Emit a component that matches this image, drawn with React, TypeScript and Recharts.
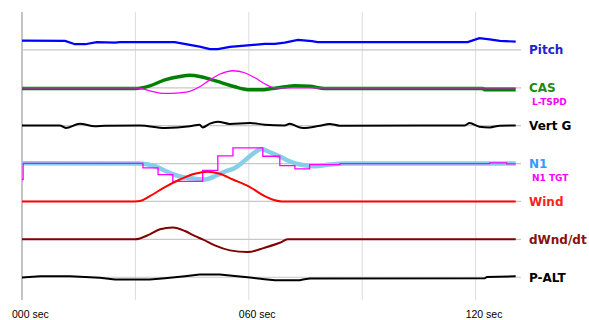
import { LineChart, Line, XAxis, YAxis, ReferenceLine } from 'recharts';

// time axis (sec) and per-trace deviations from each band's baseline (1 band = 10 units)
const xTicks = [0, 60, 120];
const xTickLabels = ['000 sec', '060 sec', '120 sec'];
const gridX = [30, 60, 90, 120];

const pitchT = [0, 11.4, 14, 16.7, 19.8, 24.6, 25.9, 40.4, 44.4, 47, 49.7, 51.8, 55, 58.9, 64.2, 66.9, 69.5, 73, 76.7, 78.2, 117.9, 121, 123.7, 126.4, 130.6];
const pitchV = [2.46, 2.38, 1.5, 1.5, 2.04, 1.93, 2.04, 2.04, 1.32, 0.87, 0.19, 0.19, 0.79, 1.14, 1.59, 1.59, 1.93, 2.65, 2.3, 2.04, 2.04, 3.1, 2.78, 2.38, 2.2];

const casT = [0, 29.9, 33.8, 37.8, 41.8, 44.4, 47, 49.7, 52.9, 56.3, 60.3, 63.4, 65.6, 68.7, 72.2, 76.1, 80.1, 121.9, 122.4, 130.6];
const casV = [-0.2, -0.2, 0.5, 2.1, 3.0, 3.3, 3.0, 2.3, 1.3, 0.26, -0.53, -0.53, -0.26, 0.13, 0.53, 0.4, -0.2, -0.2, -0.53, -0.53];

const ltspdT = [0, 30, 31.2, 33.8, 37.8, 41.8, 44.4, 47, 49.7, 52.3, 55.8, 58.9, 61.6, 64.2, 66.9, 130.6];
const ltspdV = [0, 0, -0.13, -0.8, -1.5, -1.32, -0.93, 0.26, 2.1, 3.57, 4.5, 3.97, 2.65, 1.06, 0, 0];

const vertGT = [0, 10, 11.6, 15.3, 19.3, 21.9, 31.2, 37.8, 44.4, 47, 47.8, 49.7, 51.8, 55, 60.3, 64.2, 69.5, 70.8, 73.5, 74.3, 78.8, 81.4, 84, 117.1, 118.4, 121, 123.7, 126.4, 130.6];
const vertGV = [0.08, 0.08, -0.6, 0.53, -0.18, 0, 0.08, -0.6, -0.18, 0.26, -0.45, 0.53, 1.06, 0.45, 0.71, 0.26, 0.08, 0.53, -0.5, -0.6, 0, 0.45, 0, 0.08, 0.71, -0.26, -0.45, 0, 0.08];

const n1T = [0, 31.2, 35.2, 39.1, 41.8, 45.7, 48.4, 51, 53.7, 56.3, 58.9, 61.6, 63.2, 65.6, 68.2, 70.8, 73.5, 77.5, 81.4, 85.4, 130.6];
const n1V = [0.1, 0, -0.71, -2.46, -3.4, -3.97, -4.23, -3.35, -2.1, -1.15, 0.79, 2.98, 3.86, 2.98, 1.85, 0.61, -0.26, -0.71, -0.26, 0, 0];

const n1TgtT = [0, 0.3, 32, 36, 39.9, 47.8, 51.8, 55.8, 63.7, 68.2, 72.2, 76.1, 84.1, 123.7, 128.2, 130.6];
const n1TgtV = [-4.2, 0.08, -1.14, -2.9, -4.7, -1.77, 2.04, 4.15, 1.93, -0.53, -1.4, -0.26, 0, 0.19, -0.08, -0.08];

const windT = [0, 29.9, 31.2, 33.8, 37.8, 41.8, 45.7, 49, 52.3, 55.8, 60.3, 64.2, 66.9, 68.7, 130.6];
const windV = [0, 0, 0.1, 1.4, 3.8, 5.8, 7.3, 7.86, 7.3, 5.8, 3.8, 1.4, 0.3, 0, 0];

const dWndT = [0, 29.9, 33.8, 36.5, 39.9, 43.1, 45.7, 47.8, 51, 55, 59.7, 64.2, 68.2, 70.3, 130.6];
const dWndV = [0, 0, 1.32, 2.65, 3.1, 2.2, 0.9, 0, -1.6, -2.9, -3.36, -2.2, -0.9, 0, 0];

const pAltT = [0, 4.8, 12.7, 20.6, 24.6, 33.8, 37.8, 43.1, 47, 52.3, 56.3, 60.3, 64.2, 66.9, 73.5, 74.3, 76.1, 122.4, 123, 130.6];
const pAltV = [-0.08, 0.26, 0.26, -0.13, -0.6, -0.6, -0.26, 0.26, 0.71, 0.71, 0.34, -0.08, -0.53, -0.79, -0.79, -0.6, -0.34, -0.26, 0.08, 0.26];

const toPoints = (ts: number[], vs: number[], base: number) =>
  ts.map((t, i) => ({ t, v: base + vs[i] }));

const FONT = '"DejaVu Sans", Verdana, sans-serif';

const bands = [
  { base: 70, label: 'Pitch', color: '#2222cc' },
  { base: 60, label: 'CAS', color: '#1a8a1a' },
  { base: 50, label: 'Vert G', color: '#000000' },
  { base: 40, label: 'N1', color: '#3399ff' },
  { base: 30, label: 'Wind', color: '#ff2020' },
  { base: 20, label: 'dWnd/dt', color: '#8b1010' },
  { base: 10, label: 'P-ALT', color: '#000000' },
];

const subLabels = [
  { y: 56.4, label: 'L-TSPD' },
  { y: 36.2, label: 'N1  TGT' },
];

function TimeTick({ x, y, payload }: { x?: number; y?: number; payload?: { value: number } }) {
  const idx = xTicks.indexOf(payload?.value ?? -1);
  return (
    <text x={(x ?? 0) - 10} y={(y ?? 0) + 10} fontSize={10.5} fontFamily='"Liberation Sans", Arial, sans-serif' fill="#000">
      {xTickLabels[idx]}
    </text>
  );
}

export default function App() {
  return (
    <div style={{ position: 'absolute', left: 0, top: 0, background: '#fff' }}>
      <LineChart width={589} height={320} margin={{ top: 12, right: 68, bottom: 0, left: 22 }}>
        <XAxis
          dataKey="t"
          type="number"
          domain={[0, 132]}
          ticks={xTicks}
          axisLine={false}
          tickLine={false}
          height={20}
          tick={<TimeTick />}
        />
        <YAxis hide type="number" domain={[4, 80]} />

        {gridX.map(x => (
          <ReferenceLine key={'gx' + x} x={x} stroke="#dcdcdc" strokeWidth={1} />
        ))}
        <ReferenceLine x={0} stroke="#c4c4c4" strokeWidth={2} />

        {bands.map(b => (
          <ReferenceLine
            key={b.label}
            y={b.base}
            stroke="#c8c8c8"
            strokeWidth={1.2}
            label={{ value: b.label, position: 'right', offset: 8, fill: b.color, fontSize: 12, fontWeight: 'bold', fontFamily: FONT }}
          />
        ))}
        {subLabels.map(s => (
          <ReferenceLine
            key={s.label}
            y={s.y}
            stroke="none"
            strokeOpacity={0}
            label={{ value: s.label, position: 'right', offset: 11, fill: '#ff00ff', fontSize: 9, fontWeight: 'bold', fontFamily: FONT }}
          />
        ))}

        <Line data={toPoints(pitchT, pitchV, 70)} dataKey="v" type="linear" stroke="#0000ff" strokeWidth={2.2} dot={false} isAnimationActive={false} />
        <Line data={toPoints(casT, casV, 60)} dataKey="v" type="monotone" stroke="#008000" strokeWidth={3.5} dot={false} isAnimationActive={false} />
        <Line data={toPoints(ltspdT, ltspdV, 60)} dataKey="v" type="monotone" stroke="#ff00ff" strokeWidth={1.3} dot={false} isAnimationActive={false} />
        <Line data={toPoints(vertGT, vertGV, 50)} dataKey="v" type="monotone" stroke="#000000" strokeWidth={2} dot={false} isAnimationActive={false} />
        <Line data={toPoints(n1T, n1V, 40)} dataKey="v" type="monotone" stroke="#87ceeb" strokeWidth={4.5} dot={false} isAnimationActive={false} />
        <Line data={toPoints(n1TgtT, n1TgtV, 40)} dataKey="v" type="stepAfter" stroke="#ff00ff" strokeWidth={1.3} dot={false} isAnimationActive={false} />
        <Line data={toPoints(windT, windV, 30)} dataKey="v" type="monotone" stroke="#ff0000" strokeWidth={2} dot={false} isAnimationActive={false} />
        <Line data={toPoints(dWndT, dWndV, 20)} dataKey="v" type="monotone" stroke="#800000" strokeWidth={2} dot={false} isAnimationActive={false} />
        <Line data={toPoints(pAltT, pAltV, 10)} dataKey="v" type="linear" stroke="#000000" strokeWidth={2} dot={false} isAnimationActive={false} />
      </LineChart>
    </div>
  );
}
